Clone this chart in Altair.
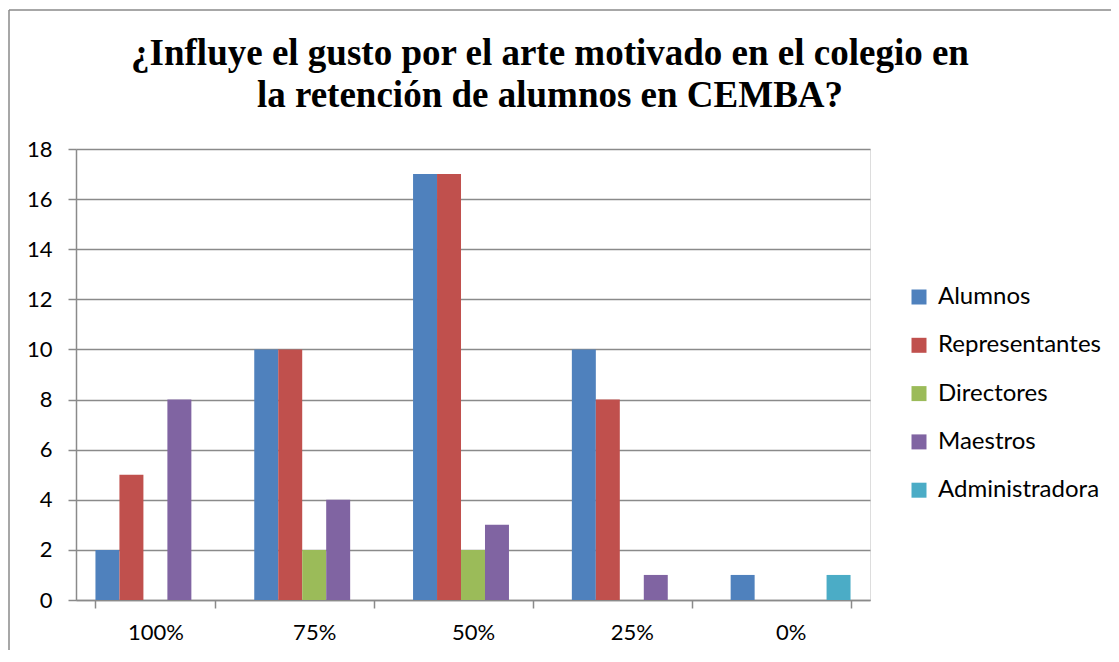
import altair as alt
import pandas as pd

categories = ["100%", "75%", "50%", "25%", "0%"]
series = ["Alumnos", "Representantes", "Directores", "Maestros", "Administradora"]
colors = ["#4F81BD", "#C0504D", "#9BBB59", "#8064A2", "#4BACC6"]

alumnos = [2, 10, 17, 10, 1]
representantes = [5, 10, 17, 8, 0]
directores = [0, 2, 2, 0, 0]
maestros = [8, 4, 3, 1, 0]
administradora = [0, 0, 0, 0, 1]

y_ticks = [0, 2, 4, 6, 8, 10, 12, 14, 16, 18]

title_lines = [
    "¿Influye el gusto por el arte motivado en el colegio en",
    "la retención de alumnos en CEMBA?",
]

rows = []
for s, vals in zip(series, [alumnos, representantes, directores, maestros, administradora]):
    for c, v in zip(categories, vals):
        rows.append({"category": c, "series": s, "value": v})
df = pd.DataFrame(rows)

FONT = "Lato"
GRID = "#8a8a8a"

bars = alt.Chart(df).mark_bar().encode(
    x=alt.X(
        "category:N",
        sort=categories,
        scale=alt.Scale(paddingInner=0.245, paddingOuter=0.1225),
        axis=alt.Axis(
            title=None,
            labelAngle=0,
            tickBand="extent",
            tickSize=8,
            tickColor=GRID,
            tickWidth=1.5,
            domainColor=GRID,
            domainWidth=1.5,
            labelFont=FONT,
            labelFontSize=22,
            labelColor="#000000",
            labelPadding=14,
            grid=False,
        ),
    ),
    xOffset=alt.XOffset("series:N", sort=series, scale=alt.Scale(paddingInner=0, paddingOuter=0)),
    y=alt.Y(
        "value:Q",
        scale=alt.Scale(domain=[0, 18], nice=False),
        axis=alt.Axis(
            title=None,
            values=y_ticks,
            tickSize=8,
            tickColor=GRID,
            tickWidth=1.5,
            domainColor=GRID,
            domainWidth=1.5,
            gridColor=GRID,
            gridWidth=1.5,
            labelFont=FONT,
            labelFontSize=22,
            labelColor="#000000",
            labelPadding=16,
        ),
    ),
    color=alt.Color(
        "series:N",
        sort=series,
        scale=alt.Scale(domain=series, range=colors),
        legend=alt.Legend(
            title=None,
            orient="none",
            legendX=831,
            legendY=136,
            symbolType="square",
            symbolSize=225,
            symbolStrokeWidth=0,
            labelFont=FONT,
            labelFontSize=24,
            labelColor="#000000",
            labelOffset=7,
            labelLimit=400,
            rowPadding=24.3,
        ),
    ),
)

frame_df = pd.DataFrame({"k": [0]})
frame_left = alt.Chart(frame_df).mark_rule(color=GRID, strokeWidth=1.5).encode(
    x=alt.value(-67), y=alt.value(-139), y2=alt.value(700)
)
frame_top = alt.Chart(frame_df).mark_rule(color=GRID, strokeWidth=1.5).encode(
    x=alt.value(-67), x2=alt.value(1200), y=alt.value(-139)
)

chart = alt.layer(bars, frame_left, frame_top).properties(
    width=794,
    height=451,
    autosize=alt.AutoSizeParams(type="none"),
    padding={"left": 68, "top": 141, "right": 241, "bottom": 50},
    title=alt.Title(
        text=title_lines,
        font="Liberation Serif",
        fontSize=37,
        fontWeight="bold",
        lineHeight=42,
        color="#000000",
        anchor="middle",
        dx=77,
        dy=120,
        offset=14,
    ),
).configure_view(stroke=None).configure(background="white")

chart.save("out.html", embed_options={"renderer": "svg", "actions": False})
